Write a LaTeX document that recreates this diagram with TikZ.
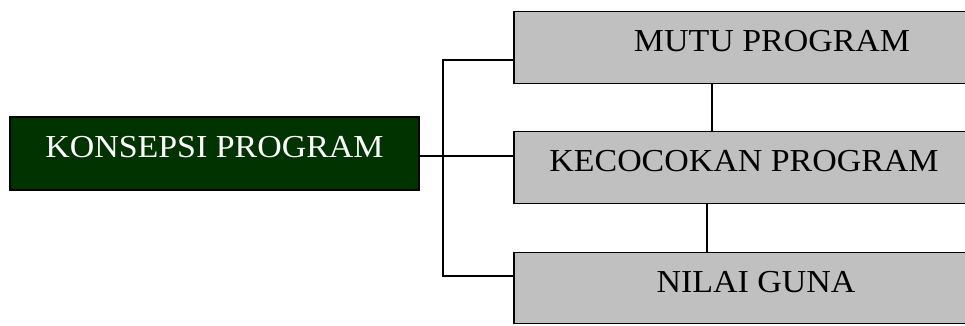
\documentclass[tikz,border=0pt]{standalone}
\usepackage{fontspec}
\setmainfont{Liberation Serif}[FakeStretch=1.06]
\definecolor{deepgreen}{RGB}{0,51,0}
\definecolor{boxgray}{RGB}{192,192,192}
\begin{document}
\begin{tikzpicture}[x=1pt,y=-1pt,
  box/.style={draw=black,line width=1.4pt,rectangle,inner sep=0pt,outer sep=0pt},
  mainbox/.style={box,fill=deepgreen,minimum width=409pt,minimum height=73pt},
  subbox/.style={box,fill=boxgray,minimum width=466pt,minimum height=71.5pt},
  caption/.style={font=\fontsize{32}{36}\selectfont,inner sep=0pt,anchor=base},
  wire/.style={draw=black,line width=1.4pt}]
\useasboundingbox (0,0) rectangle (965,326);

% left concept box
\node[mainbox] (konsepsi) at (214.5,153.5) {};
\node[caption,text=white] (tkonsepsi) at (214.5,157) {KONSEPSI PROGRAM};

% right-hand boxes (run past the page edge)
\node[subbox] (mutu) at (747,47.5) {};
\node[caption] (tmutu) at (772,52) {MUTU PROGRAM};

\node[subbox] (kecocokan) at (747,167.5) {};
\node[caption] (tkecocokan) at (744,171) {KECOCOKAN PROGRAM};

\node[subbox] (nilai) at (747,288) {};
\node[caption] (tnilai) at (756,292) {NILAI GUNA};

% bracket joining the concept to the three boxes
\coordinate (jt) at (443,60);
\coordinate (jm) at (443,156);
\coordinate (jb) at (443,276);
\draw[wire] (mutu.west |- jt) -- (jt) -- (jb) -- (nilai.west |- jb);
\draw[wire] (konsepsi.east |- jm) -- (kecocokan.west |- jm);

% links between the stacked boxes
\coordinate (ja) at (712,0);
\coordinate (jc) at (707,0);
\draw[wire] (mutu.south -| ja) -- (kecocokan.north -| ja);
\draw[wire] (kecocokan.south -| jc) -- (nilai.north -| jc);
\end{tikzpicture}
\end{document}
